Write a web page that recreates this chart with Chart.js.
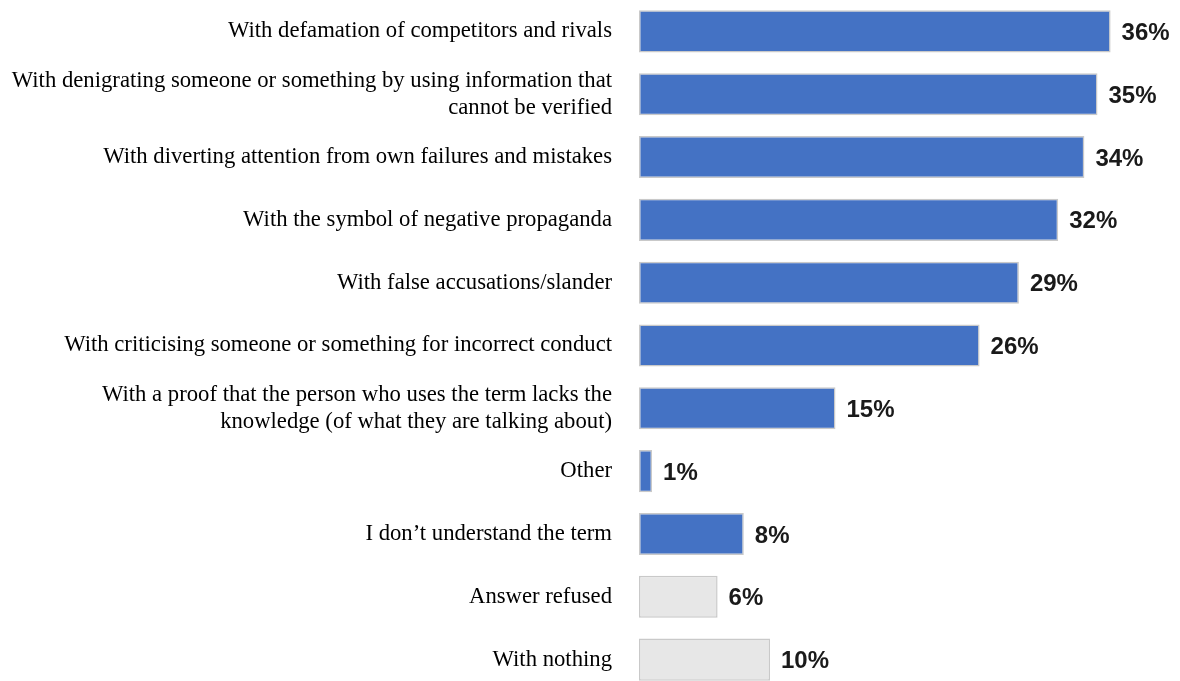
<!DOCTYPE html>
<html>
<head>
<meta charset="utf-8">
<script src="https://cdn.jsdelivr.net/npm/chart.js@4/dist/chart.umd.min.js"></script>
<style>
  html, body { margin: 0; padding: 0; background: #fff; overflow: hidden; }
  #wrap { width: 1180px; height: 681px; overflow: hidden; }
  #wrap > div { width: 1180px; height: 691px; }
</style>
</head>
<body>
<div id="wrap"><div><canvas id="termChart"></canvas></div></div>
<script>
const categories = [
    "With defamation of competitors and rivals",
    ["With denigrating someone or something by using information that", "cannot be verified"],
    "With diverting attention from own failures and mistakes",
    "With the symbol of negative propaganda",
    "With false accusations/slander",
    "With criticising someone or something for incorrect conduct",
    ["With a proof that the person who uses the term lacks the", "knowledge (of what they are talking about)"],
    "Other",
    "I don\u2019t understand the term",
    "Answer refused",
    "With nothing"
];
const values = [36, 35, 34, 32, 29, 26, 15, 1, 8, 6, 10];
const answerType = ["a", "a", "a", "a", "a", "a", "a", "a", "a", "n", "n"];

const fillColors = answerType.map(t => t === "a" ? "#4472c4" : "#e7e7e7");

// percentage text just past the end of each bar
const valueLabels = {
    id: "valueLabels",
    afterDatasetsDraw(chart) {
        const ctx = chart.ctx;
        const meta = chart.getDatasetMeta(0);
        ctx.save();
        ctx.font = "bold 24px 'Liberation Sans', Arial, sans-serif";
        ctx.fillStyle = "#1a1a1a";
        ctx.textAlign = "left";
        ctx.textBaseline = "middle";
        meta.data.forEach((bar, i) => {
            ctx.fillText(values[i] + "%", bar.x + 11, bar.y + 2);
        });
        ctx.restore();
    }
};

const ctx = document.getElementById("termChart").getContext("2d");
new Chart(ctx, {
    type: "bar",
    data: {
        labels: categories,
        datasets: [{
            data: values,
            backgroundColor: fillColors,
            borderColor: "#c9c9c9",
            borderWidth: 1.5,
            borderSkipped: false,
            barPercentage: 0.67,
            categoryPercentage: 1
        }]
    },
    options: {
        indexAxis: "y",
        responsive: true,
        maintainAspectRatio: false,
        animation: false,
        layout: { padding: { top: 0, right: 17, bottom: 0, left: 0 } },
        plugins: {
            legend: { display: false },
            tooltip: { enabled: false }
        },
        scales: {
            x: {
                display: false,
                min: 0,
                max: 40
            },
            y: {
                afterFit(scale) {
                    // fixed label column, no extra room above/below the bars
                    scale.width = 639;
                    scale.paddingTop = 0;
                    scale.paddingBottom = 0;
                },
                grid: { display: false, drawTicks: false },
                border: { display: false },
                ticks: {
                    padding: 27,
                    color: "#000",
                    font: { family: "'Liberation Serif', 'Times New Roman', serif", size: 22.7, lineHeight: 1.2 }
                }
            }
        }
    },
    plugins: [valueLabels]
});
</script>
</body>
</html>
